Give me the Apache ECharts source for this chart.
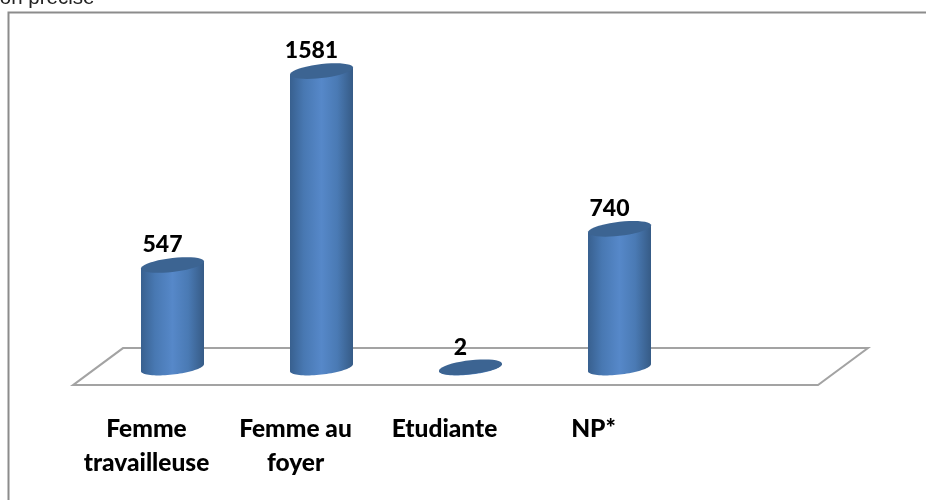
<!DOCTYPE html>
<html>
<head>
<meta charset="utf-8">
<style>html,body{margin:0;padding:0;background:#fff}#c{width:926px;height:500px}</style>
<script src="https://cdn.jsdelivr.net/npm/echarts@6/dist/echarts.min.js"></script>
</head>
<body>
<div id="c"></div>
<script>
const categories = ['Femme\ntravailleuse', 'Femme au\nfoyer', 'Etudiante', 'NP*', ''];
const values = [547, 1581, 2, 740];
const noteText = 'Non précisé';

const FONT = 'Lato, "Open Sans", sans-serif';
const HALF_W = 31.5, MINOR = 7, TILT = 3.5;

// Points of a tilted ellipse between two parametric angles
function arc(cx, cy, from, to) {
  const pts = [];
  for (let i = 0; i <= 40; i++) {
    const t = from + (to - from) * i / 40;
    pts.push([cx + HALF_W * Math.cos(t), cy + MINOR * Math.sin(t) - TILT * Math.cos(t)]);
  }
  return pts;
}

function renderFloor(params, api) {
  const cs = params.coordSys;
  const y0 = api.coord([0, 0])[1];
  const skew = 25, back = 19.5, front = 17.5;
  return {
    type: 'polygon',
    shape: { points: [
      [cs.x - skew, y0 + front],
      [cs.x + skew, y0 - back],
      [cs.x + cs.width + skew, y0 - back],
      [cs.x + cs.width - skew, y0 + front]
    ] },
    style: { fill: 'none', stroke: '#a3a3a3', lineWidth: 2 }
  };
}

function renderCylinder(params, api) {
  const base = api.coord([api.value(0), 0]);
  const top = api.coord([api.value(0), api.value(1)]);
  const cx = base[0];
  const body = [
    ...arc(cx, base[1], 0, Math.PI),
    [cx - HALF_W, top[1] + TILT],
    [cx + HALF_W, top[1] - TILT]
  ];
  const side = new echarts.graphic.LinearGradient(0, 0, 1, 0, [
    { offset: 0, color: '#38608f' },
    { offset: 0.22, color: '#4878b2' },
    { offset: 0.5, color: '#5688c9' },
    { offset: 0.75, color: '#4a7ab4' },
    { offset: 1, color: '#365b86' }
  ]);
  return {
    type: 'group',
    children: [
      { type: 'polygon', shape: { points: body }, style: { fill: side } },
      { type: 'polygon', shape: { points: arc(cx, top[1], 0, Math.PI * 2) }, style: { fill: '#3c6492' } },
      {
        type: 'text',
        x: cx - 10,
        y: top[1] - 20,
        style: {
          text: String(api.value(1)),
          font: '900 23px ' + FONT,
          fill: '#000',
          align: 'center',
          verticalAlign: 'middle'
        }
      }
    ]
  };
}

const chart = echarts.init(document.getElementById('c'), null, { renderer: 'canvas' });
chart.setOption({
  animation: false,
  backgroundColor: '#fff',
  grid: { left: 98, width: 745, top: 30, height: 337.6 },
  xAxis: {
    type: 'category',
    data: categories,
    axisLine: { show: false },
    axisTick: { show: false },
    axisLabel: {
      color: '#000',
      fontFamily: FONT,
      fontWeight: 900,
      fontSize: 24.5,
      lineHeight: 34,
      interval: 0,
      margin: 44,
      padding: [0, 52, 0, 0]
    }
  },
  yAxis: { type: 'value', min: 0, max: 1800, show: false },
  graphic: [
    { type: 'polyline', silent: true, shape: { points: [[8.5, 500], [8.5, 12.5], [926, 12.5]] },
      style: { fill: 'none', stroke: '#8c8c8c', lineWidth: 2 } },
    { type: 'text', silent: true, x: -15, y: 9,
      style: { text: noteText, font: '20.5px "Liberation Sans", sans-serif', fill: '#222', verticalAlign: 'bottom' } }
  ],
  series: [
    { type: 'custom', silent: true, z: 1, renderItem: renderFloor, data: [[0, 0]], encode: { x: 0, y: 1 } },
    {
      type: 'custom',
      z: 2,
      renderItem: renderCylinder,
      encode: { x: 0, y: 1 },
      data: values.map((v, i) => [i, v])
    }
  ]
});
</script>
</body>
</html>
